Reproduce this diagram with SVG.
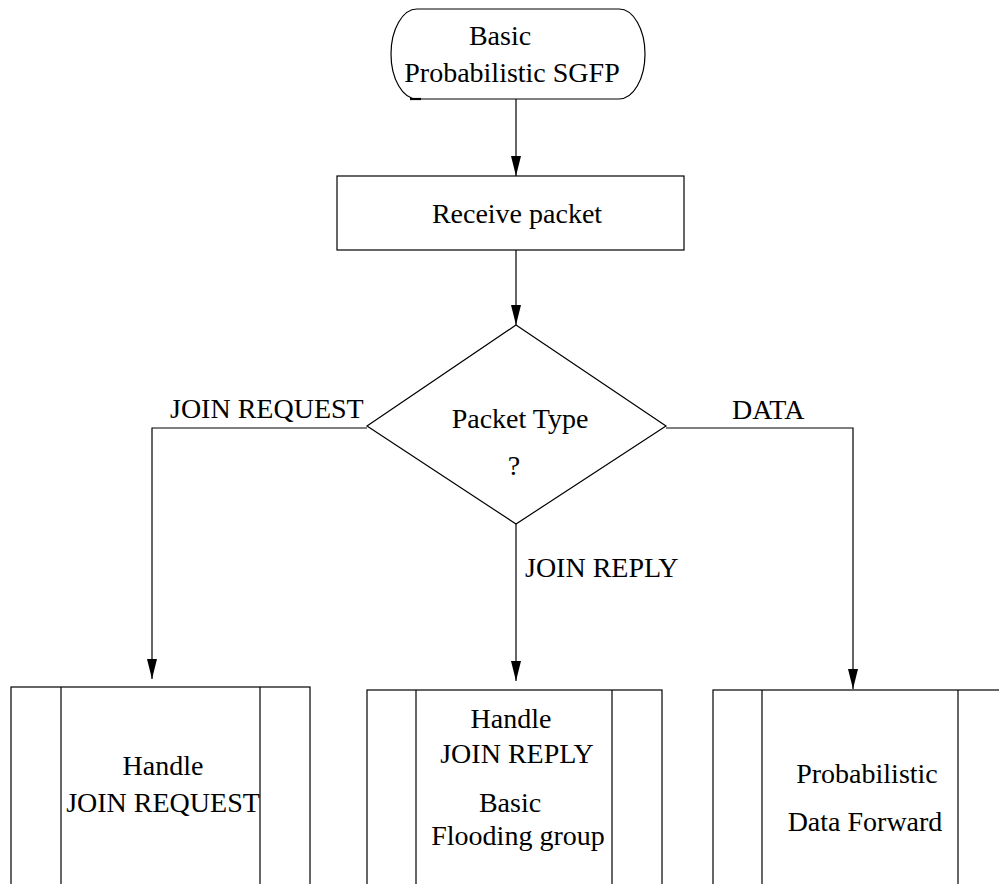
<svg xmlns="http://www.w3.org/2000/svg" width="999" height="884" viewBox="0 0 999 884">
  <style>
    .shape { fill: #ffffff; stroke: #000000; stroke-width: 1.2; }
    .edge { fill: none; stroke: #000000; stroke-width: 1.2; }
    .lbl { font-family: "Liberation Serif", "Times New Roman", serif; font-size: 28px; fill: #000000; }
    .c { text-anchor: middle; }
  </style>
  <defs>
    <marker id="arrow" markerUnits="userSpaceOnUse" markerWidth="20" markerHeight="12" viewBox="0 0 20 12" refX="20" refY="6" orient="auto">
      <path d="M0,1 L20,6 L0,11 Z" fill="#000000"/>
    </marker>
  </defs>

  <rect width="999" height="884" fill="#ffffff"/>

  <!-- connectors -->
  <g id="connectors">
    <line class="edge" x1="516" y1="99" x2="516" y2="176" marker-end="url(#arrow)"/>
    <line class="edge" x1="516" y1="250" x2="516" y2="325" marker-end="url(#arrow)"/>
    <polyline class="edge" points="367,428 152,428 152,679" marker-end="url(#arrow)"/>
    <line class="edge" x1="516" y1="524" x2="516" y2="681" marker-end="url(#arrow)"/>
    <polyline class="edge" points="666,428 853,428 853,689" marker-end="url(#arrow)"/>
    <text class="lbl" x="170" y="418">JOIN REQUEST</text>
    <text class="lbl" x="732" y="419">DATA</text>
    <text class="lbl" x="525" y="577">JOIN REPLY</text>
  </g>

  <!-- start terminal -->
  <g id="start">
    <rect class="shape" x="391" y="9" width="254" height="90" rx="26" ry="45"/>
    <line x1="410" y1="99" x2="421" y2="99" stroke="#000000" stroke-width="2.2"/>
    <text class="lbl c" x="500" y="45">Basic</text>
    <text class="lbl c" x="512" y="82">Probabilistic SGFP</text>
  </g>

  <!-- receive step -->
  <g id="receive">
    <rect class="shape" x="337" y="176" width="347" height="74"/>
    <text class="lbl c" x="517" y="223">Receive packet</text>
  </g>

  <!-- packet type decision -->
  <g id="decision">
    <polygon class="shape" points="516,325 666,426 516,524 367,426"/>
    <text class="lbl c" x="520" y="428">Packet Type</text>
    <text class="lbl c" x="514" y="475">?</text>
  </g>

  <!-- predefined process: join request -->
  <g id="join-request">
    <rect class="shape" x="11" y="687" width="299" height="230"/>
    <line class="edge" x1="61" y1="687" x2="61" y2="884"/>
    <line class="edge" x1="260" y1="687" x2="260" y2="884"/>
    <text class="lbl c" x="163" y="775">Handle</text>
    <text class="lbl c" x="163" y="812">JOIN REQUEST</text>
  </g>

  <!-- predefined process: join reply -->
  <g id="join-reply">
    <rect class="shape" x="367" y="690" width="295" height="230"/>
    <line class="edge" x1="416" y1="690" x2="416" y2="884"/>
    <line class="edge" x1="612" y1="690" x2="612" y2="884"/>
    <text class="lbl c" x="511" y="728">Handle</text>
    <text class="lbl c" x="517" y="763">JOIN REPLY</text>
    <text class="lbl c" x="510" y="812">Basic</text>
    <text class="lbl c" x="518" y="845">Flooding group</text>
  </g>

  <!-- predefined process: data forward -->
  <g id="data-forward">
    <rect class="shape" x="713" y="690" width="295" height="230"/>
    <line class="edge" x1="762" y1="690" x2="762" y2="884"/>
    <line class="edge" x1="958" y1="690" x2="958" y2="884"/>
    <text class="lbl c" x="867" y="783">Probabilistic</text>
    <text class="lbl c" x="865" y="831">Data Forward</text>
  </g>
</svg>
